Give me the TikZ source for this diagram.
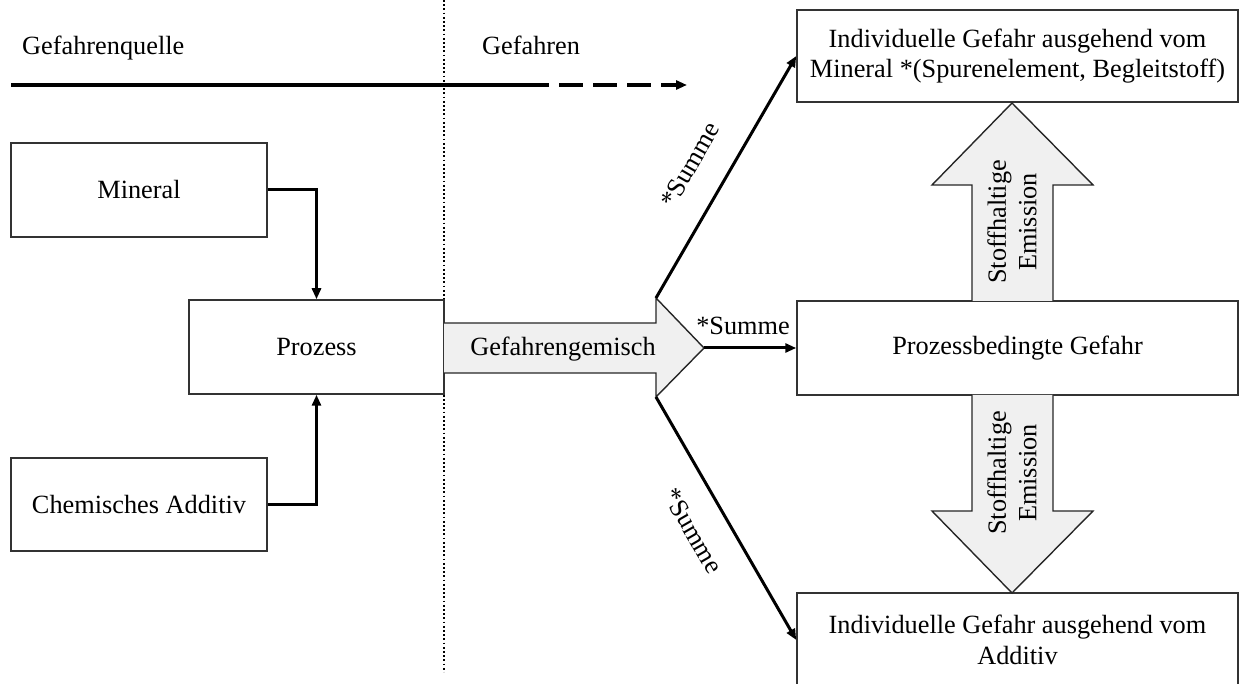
\documentclass[tikz,border=0pt]{standalone}
\usepackage{fontspec}
\setmainfont{Liberation Serif}
\usetikzlibrary{arrows.meta}
\begin{document}
\begin{tikzpicture}[x=1pt,y=-1pt,
  font=\fontsize{26.3}{30.5}\selectfont,
  box/.style={draw=black!80,line width=1.5pt,fill=white,inner sep=0pt,align=center},
  tip/.style={-{Triangle[length=11pt,width=9pt]}},
  conn/.style={line width=3pt,tip},
  bigarrow/.style={draw=black!85,line width=1.4pt,fill=black!6,line join=miter},
  lbl/.style={inner sep=0pt,align=center}]
\clip (0,0) rectangle (1240,684);
\fill[white] (0,0) rectangle (1240,684);

% header: source / hazards
\node[lbl,anchor=base west] (hq) at (22,55) {Gefahrenquelle};
\node[lbl,anchor=base west] (hz) at (482,55) {Gefahren};
\coordinate (h0) at (11,85);
\coordinate (h1) at (549,85);
\coordinate (h2) at (687,85);
\draw[line width=3.5pt] (h0) -- (h1);
\draw[line width=3.5pt,dash pattern=on 24pt off 10pt,dash phase=24pt,tip] (h1) -- (h2);
\coordinate (d0) at (444,0);
\coordinate (d1) at (444,672);
\draw[line width=1.8pt,dash pattern=on 1.8pt off 2.4pt] (d0) -- (d1);

% left: inputs and process
\node[box,minimum width=256pt,minimum height=94pt] (min) at (139,190) {Mineral};
\node[box,minimum width=255pt,minimum height=94pt] (proz) at (316.5,347) {Prozess};
\node[box,minimum width=256pt,minimum height=93pt] (chem) at (139,504.5) {Chemisches Additiv};
\draw[conn] (min.east) -| (proz.north);
\draw[conn] (chem.east) -| (proz.south);

% hazard mixture arrow
\coordinate (gtop) at (656,298);
\coordinate (gbot) at (656,397);
\coordinate (gtip) at (704,348);
\draw[bigarrow] (444,323) -- (656,323) -- (gtop) -- (gtip) -- (gbot) -- (656,373) -- (444,373);
\node[lbl] (gem) at (563,349) {Gefahrengemisch};

% right: resulting hazards
\node[box,minimum width=441pt,minimum height=92pt] (top) at (1017.5,56)
  {Individuelle Gefahr ausgehend vom\\Mineral *(Spurenelement, Begleitstoff)};
\node[box,minimum width=441pt,minimum height=94pt] (mid) at (1017.5,348) {Prozessbedingte Gefahr};
\node[box,minimum width=441pt,minimum height=94pt] (bot) at (1017.5,640)
  {Individuelle Gefahr ausgehend vom\\Additiv};

\draw[conn] (gtop) -- (top.west);
\draw[conn] (gtip) -- (mid.west);
\draw[conn] (gbot) -- (bot.west);
\node[lbl,rotate=60] (s1) at (690,165) {*Summe};
\node[lbl,anchor=base] (s2) at (743,335) {*Summe};
\node[lbl,rotate=-60] (s3) at (693,531) {*Summe};

% emission arrows
\draw[bigarrow] (972,301) -- (972,185) -- (932,185) -- (1012,103) -- (1093,185) -- (1053,185) -- (1053,301);
\node[lbl,rotate=90] (e1) at (1012,222) {Stoffhaltige\\Emission};
\draw[bigarrow] (972,395) -- (972,511) -- (932,511) -- (1012,593) -- (1093,511) -- (1053,511) -- (1053,395);
\node[lbl,rotate=90] (e2) at (1012,473) {Stoffhaltige\\Emission};
\end{tikzpicture}
\end{document}
